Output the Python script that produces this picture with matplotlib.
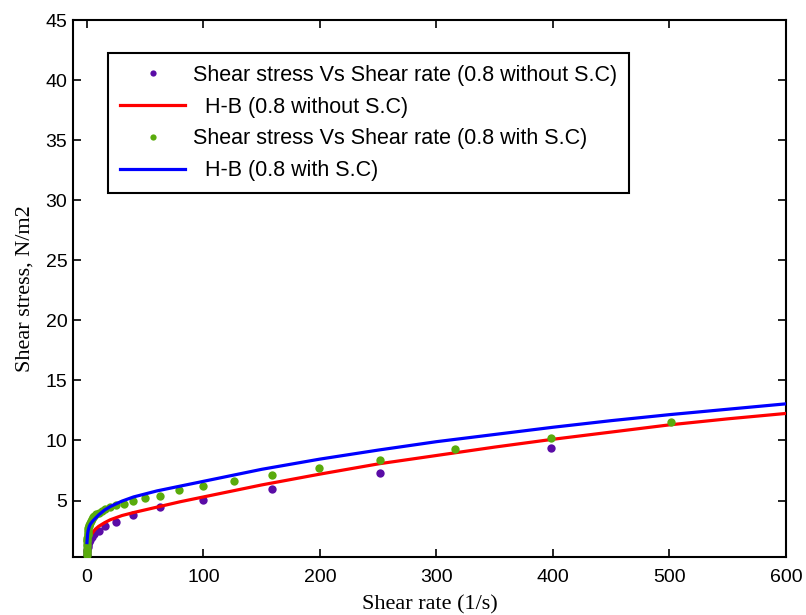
import numpy as np
import matplotlib
matplotlib.use("Agg")
import matplotlib.pyplot as plt
from matplotlib.lines import Line2D

# ---- data ----
# 0.8 without S.C : measured points
x_wo = [0.10, 0.16, 0.25, 0.40, 0.63, 1.0, 1.58, 2.51, 3.98, 6.31,
        10.0, 15.85, 25.1, 39.8, 63.1, 100.0, 158.5, 251.2, 398.1]
y_wo = [0.35, 0.50, 0.70, 0.90, 1.10, 1.30, 1.55, 1.75, 2.00, 2.20,
        2.50, 2.86, 3.20, 3.83, 4.44, 5.03, 5.98, 7.27, 9.36]

# 0.8 with S.C : measured points
x_w = [0.063, 0.079, 0.10, 0.13, 0.16, 0.20, 0.25, 0.32, 0.40, 0.50,
       0.63, 0.79, 1.0, 1.26, 1.58, 2.0, 2.51, 3.16, 3.98, 5.01,
       6.31, 7.94, 10.0, 12.59, 15.85, 19.95, 25.1, 31.6, 39.8, 50.1,
       63.1, 79.4, 100.0, 125.9, 158.5, 199.5, 251.2, 316.2, 398.1, 501.2]
y_w = [0.45, 0.60, 0.80, 1.00, 1.20, 1.40, 1.60, 1.75, 1.90, 2.10,
       2.25, 2.40, 2.55, 2.70, 2.85, 3.00, 3.15, 3.30, 3.45, 3.60,
       3.70, 3.85, 4.00, 4.15, 4.30, 4.45, 4.60, 4.70, 4.97, 5.20,
       5.40, 5.86, 6.25, 6.60, 7.14, 7.70, 8.40, 9.30, 10.20, 11.50]

# H-B fitted curves
x_fit = [0, 0.5, 1, 2, 3, 5, 7, 10, 15, 20, 30, 40, 60, 80, 100,
         150, 200, 250, 300, 350, 400, 450, 500, 550, 600]
y_fit_wo = [1.0, 1.35, 1.55, 1.85, 2.05, 2.35, 2.6, 2.85, 3.15, 3.4, 3.75, 4.0,
            4.45, 4.9, 5.3, 6.3, 7.2, 8.05, 8.75, 9.45, 10.1, 10.7, 11.3, 11.8, 12.25]
y_fit_w = [1.5, 2.2, 2.5, 2.85, 3.05, 3.3, 3.5, 3.8, 4.2, 4.5, 4.95, 5.3,
           5.8, 6.2, 6.6, 7.6, 8.45, 9.2, 9.9, 10.5, 11.1, 11.65, 12.15, 12.6, 13.05]

labels = ["Shear stress Vs Shear rate (0.8 without S.C)",
          "  H-B (0.8 without S.C)",
          "Shear stress Vs Shear rate (0.8 with S.C)",
          "  H-B (0.8 with S.C)"]

purple = "#5a0ca6"
green = "#59ab0c"

fig = plt.figure(figsize=(8.06, 6.15), dpi=100)
ax = fig.add_axes([73/806, 58/615, 713/806, 537/615])

ax.plot(x_wo, y_wo, 'o', color=purple, ms=6, mec='none', zorder=2)
ax.plot(x_fit, y_fit_wo, '-', color='#ff0000', lw=2.3, zorder=3)
ax.plot(x_w, y_w, 'o', color=green, ms=6, mec='none', zorder=4)
ax.plot(x_fit, y_fit_w, '-', color='#0000ff', lw=2.3, zorder=5)

ax.set_xlim(-12, 600)
ax.set_ylim(0.3, 45)
ax.set_xticks(range(0, 601, 100))
ax.set_yticks(range(5, 46, 5))

tickfont = "Liberation Sans"
for lab in ax.get_xticklabels() + ax.get_yticklabels():
    lab.set_fontfamily(tickfont)
    lab.set_fontsize(14)
ax.tick_params(direction='in', length=5.5, width=1.2, top=True, right=True)
ax.tick_params(axis='x', pad=9)
ax.tick_params(axis='y', pad=4)
for s in ax.spines.values():
    s.set_linewidth(1.5)

ax.set_xlabel("Shear rate (1/s)", family="Liberation Serif", fontsize=16, labelpad=6.5)
ax.set_ylabel("Shear stress, N/m2", family="Liberation Serif", fontsize=16, labelpad=8)

handles = [Line2D([], [], ls='none', marker='o', ms=4.5, mec='none', color=purple),
           Line2D([], [], color='#ff0000', lw=2.3),
           Line2D([], [], ls='none', marker='o', ms=4.5, mec='none', color=green),
           Line2D([], [], color='#0000ff', lw=2.3)]
leg = ax.legend(handles, labels, loc='upper left', bbox_to_anchor=(0.049, 0.9385),
                borderaxespad=0, fancybox=False, framealpha=1, edgecolor='black',
                prop={'family': tickfont, 'size': 15.5}, handlelength=3.05,
                handletextpad=0.33, labelspacing=0.5, borderpad=0.55)
leg.get_frame().set_linewidth(1.5)

fig.savefig("out.png", dpi=100)
